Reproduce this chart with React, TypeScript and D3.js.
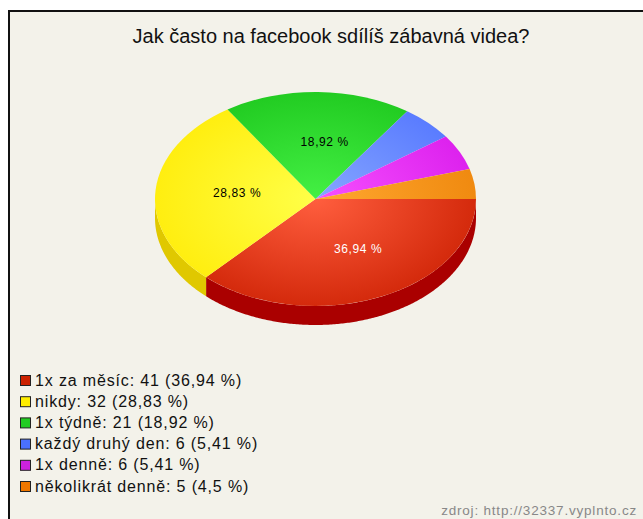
import React from 'react';
import * as d3 from 'd3';

const title = 'Jak často na facebook sdílíš zábavná videa?';
const categories = ['1x za měsíc', 'nikdy', '1x týdně', 'každý druhý den', '1x denně', 'několikrát denně'];
const counts = [41, 32, 21, 6, 6, 5];
const colors = ['#d42a0c', '#ffee10', '#22cc22', '#5a7cff', '#dd22ee', '#f08a10'];
const lightColors = ['#ff5e3e', '#ffff48', '#44f044', '#86a6ff', '#f650ff', '#ffa830'];
const sideColors = ['#aa0000', '#e0c800', '#109010', '#3050c0', '#a010b0', '#c06000'];
const legendColors = ['#cc2200', '#ffee00', '#22cc22', '#4a70ff', '#cc22dd', '#ee7700'];
const labelColors = ['#ffffff', '#000000', '#000000', '#000000', '#000000', '#000000'];
const labeled = [true, true, true, false, false, false];
const source = 'zdroj: http://32337.vyplnto.cz';

const W = 643, H = 519;
const cx = 315.5, cy = 199, rx = 160.5, ry = 107, depth = 19;
const font = 'Liberation Sans, Arial, sans-serif';

const total = d3.sum(counts);
const pct = (v: number) => (Math.round((v / total) * 10000) / 100).toString().replace('.', ',');

export default function App() {
  const pie = d3.pie<number>().sort(null).value(d => d).startAngle(Math.PI / 2).endAngle(Math.PI / 2 + 2 * Math.PI);
  const arcs = pie(counts);
  const arc = d3.arc<d3.PieArcDatum<number>>().innerRadius(0).outerRadius(rx);
  const sy = ry / rx;
  const pt = (a: number, dy = 0): [number, number] => [cx + rx * Math.sin(a), cy - ry * Math.cos(a) + dy];

  // side walls, only the front half is visible
  const sides = arcs.map((a, i) => {
    const s = Math.max(a.startAngle, Math.PI / 2);
    const e = Math.min(a.endAngle, (3 * Math.PI) / 2);
    if (e <= s) return null;
    const angles = d3.range(s, e, 0.01).concat([e]);
    const top = angles.map(t => pt(t));
    const bottom = angles.slice().reverse().map(t => pt(t, depth));
    return { i, d: d3.line()(top.concat(bottom)) + 'Z' };
  }).filter(Boolean) as { i: number; d: string }[];

  const legendY = d3.scalePoint<string>().domain(categories).range([380, 486]);

  return (
    <svg width={W} height={H} style={{ position: 'absolute', left: 0, top: 0 }}>
      <defs>
        {arcs.map((a, i) => (
          <radialGradient key={i} id={'g' + i} gradientUnits="userSpaceOnUse" cx={0} cy={0} r={rx}>
            <stop offset="0%" stopColor={lightColors[i]} />
            <stop offset="100%" stopColor={colors[i]} />
          </radialGradient>
        ))}
      </defs>
      <rect width={W} height={H} fill="#ffffff" />
      <rect x={9} y={11} width={W + 10} height={H + 10} fill="#f3f2ea" stroke="#111111" strokeWidth={2} />
      <text x={331} y={43} textAnchor="middle" fontFamily={font} fontSize={20} fill="#111">
        {title}
      </text>
      {sides.map(s => (
        <path key={'s' + s.i} d={s.d} fill={sideColors[s.i]} />
      ))}
      <g transform={`translate(${cx},${cy}) scale(1,${sy})`}>
        {arcs.map((a, i) => (
          <path key={i} d={arc(a) || ''} fill={`url(#g${i})`} />
        ))}
      </g>
      {arcs.map((a, i) => {
        if (!labeled[i]) return null;
        const m = (a.startAngle + a.endAngle) / 2;
        const x = cx + rx * 0.54 * Math.sin(m) + 8;
        const y = cy - ry * 0.52 * Math.cos(m);
        return (
          <text key={'l' + i} x={x} y={y + 3} textAnchor="middle" fontFamily={font} fontSize={12} letterSpacing={0.6} fill={labelColors[i]}>
            {pct(counts[i]) + ' %'}
          </text>
        );
      })}
      {categories.map((c, i) => {
        const y = legendY(c) as number;
        return (
          <g key={'lg' + i}>
            <rect x={20.5} y={y - 4.5} width={10} height={10} fill={legendColors[i]} stroke="#222" strokeWidth={1} />
            <text x={35} y={y + 5.5} fontFamily={font} fontSize={16} letterSpacing={0.85} fill="#111">
              {`${c}: ${counts[i]} (${pct(counts[i])} %)`}
            </text>
          </g>
        );
      })}
      <text x={637} y={515} textAnchor="end" fontFamily={font} fontSize={13.5} letterSpacing={0.8} fill="#888">
        {source}
      </text>
    </svg>
  );
}
